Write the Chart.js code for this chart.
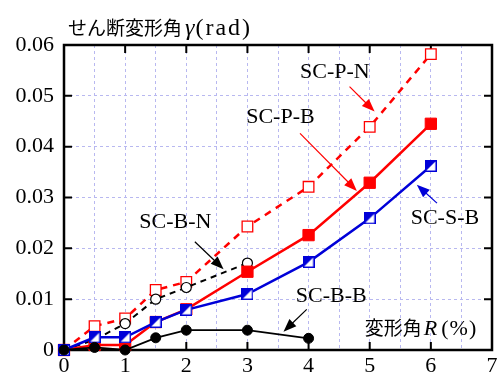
<!DOCTYPE html>
<html>
<head>
<meta charset="utf-8">
<script src="https://cdn.jsdelivr.net/npm/chart.js@4/dist/chart.umd.min.js"></script>
<style>
  html, body { margin: 0; padding: 0; background: #fff; }
</style>
</head>
<body>
<canvas id="myChart" width="501" height="374"></canvas>
<script>
// R (%) at each loading step
const rotationAngles = [0, 0.5, 1, 1.5, 2, 3, 4, 5, 6];
// shear deformation angle (rad) per specimen
const scPN = [0, 0.0047, 0.0062, 0.0118, 0.0134, 0.0243, 0.0321, 0.0439, 0.0582];
const scPB = [0, 0.0010, 0.0010, 0.0055, 0.0080, 0.0154, 0.0226, 0.0329, 0.0445];
const scSB = [0, 0.0025, 0.0025, 0.0055, 0.0079, 0.0110, 0.0173, 0.0259, 0.0362];
const scBN = [0, 0.0020, 0.0052, 0.0100, 0.0123, 0.0171];
const scBB = [0, 0.0005, 0, 0.0024, 0.0039, 0.0039, 0.0023];
const xTicks = [0, 1, 2, 3, 4, 5, 6, 7];
const yTicks = [0, 0.01, 0.02, 0.03, 0.04, 0.05, 0.06];

const RED = '#ff0000';
const BLUE = '#0000d8';
const GRID = '#b8b8f0';
const SERIF = 'Liberation Serif, serif';
const CJK = 'Noto Sans CJK JP, sans-serif';

function toPoints(values) {
  return values.map((v, i) => ({ x: rotationAngles[i], y: v }));
}

// half filled square for SC-S-B
const halfSquare = document.createElement('canvas');
halfSquare.width = 12;
halfSquare.height = 12;
(function () {
  const c = halfSquare.getContext('2d');
  c.fillStyle = '#fff';
  c.fillRect(0, 0, 12, 12);
  c.fillStyle = BLUE;
  c.beginPath();
  c.moveTo(0, 0); c.lineTo(12, 0); c.lineTo(0, 12); c.closePath();
  c.fill();
  c.strokeStyle = BLUE;
  c.lineWidth = 1.5;
  c.strokeRect(0.75, 0.75, 10.5, 10.5);
})();

// label positions in data units
const labels = [
  { text: 'SC-P-N', x: 4.43, y: 0.0547, color: RED, from: [4.67, 0.0518], to: [5.08, 0.0469] },
  { text: 'SC-P-B', x: 3.54, y: 0.0458, color: RED, from: [3.86, 0.0426], to: [4.79, 0.0313] },
  { text: 'SC-S-B', x: 6.23, y: 0.0260, color: BLUE, from: [6.10, 0.0289], to: [5.77, 0.0325] },
  { text: 'SC-B-N', x: 1.82, y: 0.0252, color: '#000', from: [2.14, 0.0213], to: [2.61, 0.0159] },
  { text: 'SC-B-B', x: 4.37, y: 0.0106, color: '#000', from: [3.97, 0.0080], to: [3.59, 0.0036] },
];

function drawRuns(ctx, runs, x, y) {
  runs.forEach(function (r) {
    ctx.font = r[1];
    ctx.letterSpacing = (r[3] || 0) + 'px';
    ctx.fillText(r[0], x, y);
    x += ctx.measureText(r[0]).width + (r[2] || 0);
  });
  ctx.letterSpacing = '0px';
}

function arrow(ctx, x1, y1, x2, y2, color) {
  const ang = Math.atan2(y2 - y1, x2 - x1);
  const len = 13, half = 5;
  ctx.strokeStyle = color;
  ctx.fillStyle = color;
  ctx.lineWidth = 1.2;
  ctx.beginPath();
  ctx.moveTo(x1, y1);
  ctx.lineTo(x2 - Math.cos(ang) * len * 0.8, y2 - Math.sin(ang) * len * 0.8);
  ctx.stroke();
  ctx.beginPath();
  ctx.moveTo(x2, y2);
  ctx.lineTo(x2 - Math.cos(ang) * len - Math.sin(ang) * half, y2 - Math.sin(ang) * len + Math.cos(ang) * half);
  ctx.lineTo(x2 - Math.cos(ang) * len + Math.sin(ang) * half, y2 - Math.sin(ang) * len - Math.cos(ang) * half);
  ctx.closePath();
  ctx.fill();
}

const framePlugin = {
  id: 'framePlugin',
  beforeDatasetsDraw(chart) {
    const { ctx, chartArea: a, scales: { x, y } } = chart;
    ctx.save();
    ctx.strokeStyle = '#000';
    ctx.lineWidth = 2;
    ctx.beginPath();
    xTicks.forEach(function (v) {
      const px = x.getPixelForValue(v);
      ctx.moveTo(px, a.bottom); ctx.lineTo(px, a.bottom - 8);
      ctx.moveTo(px, a.top); ctx.lineTo(px, a.top + 8);
    });
    yTicks.forEach(function (v) {
      const py = y.getPixelForValue(v);
      ctx.moveTo(a.left, py); ctx.lineTo(a.left + 8, py);
      ctx.moveTo(a.right, py); ctx.lineTo(a.right - 8, py);
    });
    ctx.stroke();
    ctx.lineWidth = 2.5;
    ctx.strokeRect(a.left, a.top, a.right - a.left, a.bottom - a.top);
    ctx.restore();
  },
  afterDraw(chart) {
    const { ctx, scales: { x, y } } = chart;
    ctx.save();
    ctx.fillStyle = '#000';
    ctx.textBaseline = 'alphabetic';
    drawRuns(ctx, [
      ['せん断変形角', '19px ' + CJK, 3, 0],
      ['γ', 'italic 24px ' + SERIF, 1, 0],
      ['(rad)', '24px ' + SERIF, 0, 2]
    ], 68, 35);
    drawRuns(ctx, [
      ['変形角', '19px ' + CJK, 2, 0],
      ['R', 'italic 22px ' + SERIF, 4, 0],
      ['(%)', '22px ' + SERIF, 0, 1]
    ], x.getPixelForValue(4.92), y.getPixelForValue(0.0030));

    ctx.font = '22px ' + SERIF;
    ctx.textAlign = 'center';
    ctx.textBaseline = 'middle';
    labels.forEach(function (l) {
      ctx.fillStyle = '#000';
      ctx.fillText(l.text, x.getPixelForValue(l.x), y.getPixelForValue(l.y));
      arrow(ctx,
        x.getPixelForValue(l.from[0]), y.getPixelForValue(l.from[1]),
        x.getPixelForValue(l.to[0]), y.getPixelForValue(l.to[1]), l.color);
    });
    ctx.restore();
  }
};

const ctx = document.getElementById('myChart').getContext('2d');

const chart = new Chart(ctx, {
  type: 'scatter',
  data: {
    datasets: [
      {
        label: 'SC-B-B',
        data: toPoints(scBB),
        showLine: true,
        borderColor: '#000',
        backgroundColor: '#000',
        borderWidth: 1.8,
        pointStyle: 'circle',
        pointRadius: 5,
        pointBorderWidth: 1,
        order: 1,
      },
      {
        label: 'SC-S-B',
        data: toPoints(scSB),
        showLine: true,
        borderColor: BLUE,
        backgroundColor: BLUE,
        borderWidth: 2.5,
        pointStyle: halfSquare,
        order: 2,
      },
      {
        label: 'SC-P-B',
        data: toPoints(scPB),
        showLine: true,
        borderColor: RED,
        backgroundColor: RED,
        borderWidth: 2.5,
        pointStyle: 'rect',
        pointRadius: 8,
        pointBorderWidth: 1,
        order: 3,
      },
      {
        label: 'SC-B-N',
        data: toPoints(scBN),
        showLine: true,
        borderColor: '#000',
        backgroundColor: '#fff',
        borderWidth: 2,
        borderDash: [6, 5],
        pointStyle: 'circle',
        pointRadius: 5,
        pointBorderWidth: 1.2,
        order: 4,
      },
      {
        label: 'SC-P-N',
        data: toPoints(scPN),
        showLine: true,
        borderColor: RED,
        backgroundColor: '#fff',
        borderWidth: 2.5,
        borderDash: [7, 6],
        pointStyle: 'rect',
        pointRadius: 7.5,
        pointBorderWidth: 1.3,
        order: 5,
      },
    ]
  },
  options: {
    responsive: false,
    animation: false,
    clip: false,
    layout: { padding: { top: 45, right: 6, left: 0, bottom: 0 } },
    plugins: {
      legend: { display: false },
      tooltip: { enabled: false },
    },
    scales: {
      x: {
        type: 'linear',
        min: 0,
        max: 7,
        afterFit: function (scale) { scale.height = 24; },
        border: { display: false, dash: [3, 3] },
        grid: {
          color: GRID,
          lineWidth: 1,
          drawTicks: false,
        },
        ticks: {
          stepSize: 0.5,
          autoSkip: false,
          maxRotation: 0,
          padding: 3,
          color: '#000',
          font: { family: SERIF, size: 22 },
          callback: function (v) { return xTicks.includes(v) ? String(v) : ''; },
        },
      },
      y: {
        min: 0,
        max: 0.06,
        afterFit: function (scale) { scale.width = 64; },
        border: { display: false, dash: [3, 3] },
        grid: {
          color: function (c) { return c.tick && c.tick.value === 0 ? 'rgba(0,0,0,0)' : GRID; },
          lineWidth: 1,
          drawTicks: false,
        },
        ticks: {
          stepSize: 0.01,
          padding: 10,
          color: '#000',
          font: { family: SERIF, size: 22 },
          callback: function (v) { return v === 0 ? '0' : v.toFixed(2); },
        },
      },
    },
  },
  plugins: [framePlugin],
});
</script>
</body>
</html>
